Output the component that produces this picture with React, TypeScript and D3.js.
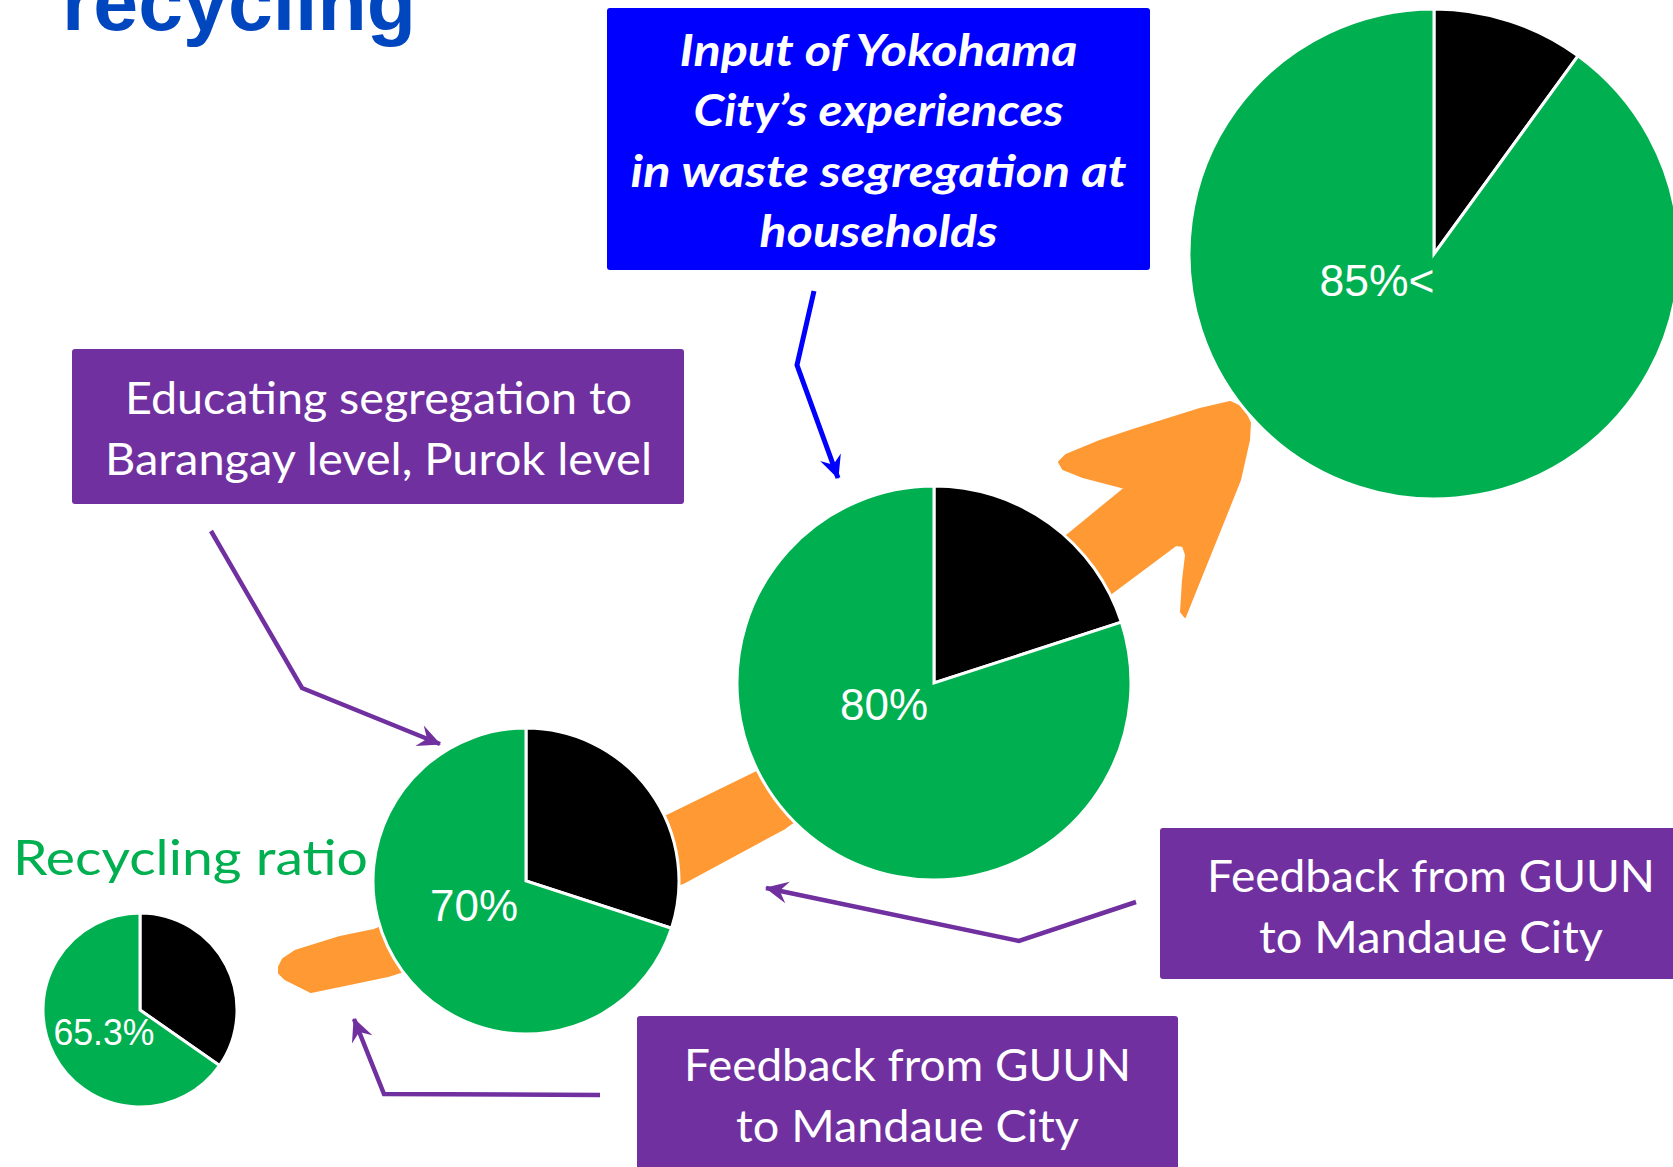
import React from "react";
import * as d3 from "d3";

const W = 1673;
const H = 1167;

// ---- data ----
const ratioLabels = ["65.3%", "70%", "80%", "85%<"];
const recycledShare = [65.3, 70, 80, 90];
const residualShare = [34.7, 30, 20, 10];
const sliceColors = ["#000000", "#00B050"]; // residual, recycled

const titleText = "recycling";
const axisLabel = "Recycling ratio";
const blueBoxLines = ["Input of Yokohama", "City\u2019s experiences", "in waste segregation at", "households"];
const educatingLines = ["Educating segregation to", "Barangay level, Purok level"];
const feedbackLines = ["Feedback from GUUN", "to Mandaue City"];

// ---- layout ----
const pieLayout = [
  { cx: 140, cy: 1010, r: 97, lx: 104, ly: 1045, fs: 37, tl: 101 },
  { cx: 526, cy: 881, r: 153, lx: 474, ly: 921, fs: 44, tl: 88 },
  { cx: 934, cy: 683, r: 197, lx: 884, ly: 720, fs: 44, tl: 88 },
  { cx: 1434, cy: 254, r: 245, lx: 1377, ly: 296, fs: 44, tl: 115 },
];

const orangePts: [number, number][] = [
  [279, 967], [283, 959], [295, 951], [311, 946], [340, 937], [374, 930],
  [669, 815], [757, 772],
  [1070, 533], [1125, 488], [1083, 477], [1063, 469], [1059, 462], [1066, 455],
  [1100, 441], [1133, 430], [1200, 409], [1230, 402], [1243, 408], [1250, 423], [1249, 440],
  [1240, 480], [1220, 530], [1197, 587], [1185, 617], [1181, 612], [1183, 580],
  [1186, 555], [1183, 546], [1176, 545], [1113, 592],
  [785, 828], [683, 883],
  [388, 976], [340, 986], [311, 992], [305, 989], [295, 984], [285, 979], [279, 973],
];

const purpleArrows: [number, number][][] = [
  [[211, 531], [302, 688], [440, 744]],
  [[1136, 902], [1019, 941], [766, 888]],
  [[600, 1095], [384, 1094], [354, 1019]],
];
const blueArrow: [number, number][] = [[814, 291], [797, 365], [838, 478]];

const PURPLE = "#7030A0";
const CAL = "Lato, 'Open Sans', sans-serif";

function Box({ x, y, w, h, fill, lines, cx, baselines, lengths, fs, italic }: any) {
  return (
    <g>
      <rect x={x} y={y} width={w} height={h} fill={fill} rx={3} />
      {lines.map((t: string, i: number) => (
        <text
          key={i}
          x={cx}
          y={baselines[i]}
          textAnchor="middle"
          fill="#fff"
          fontFamily={CAL}
          fontSize={fs}
          fontWeight={italic ? 700 : 400}
          fontStyle={italic ? "italic" : "normal"}
          textLength={lengths[i]}
          lengthAdjust="spacingAndGlyphs"
        >
          {t}
        </text>
      ))}
    </g>
  );
}

export default function App() {
  const pie = d3.pie<number>().sort(null).value((d) => d);
  const line = d3.line<[number, number]>().curve(d3.curveLinear);
  const orangeD = line(orangePts) + "Z";

  return (
    <svg
      width={W}
      height={H}
      viewBox={`0 0 ${W} ${H}`}
      style={{ position: "absolute", left: 0, top: 0, background: "#fff" }}
    >
      <defs>
        <marker id="ahP" viewBox="-26 -14 28 28" refX={0} refY={0} markerWidth={28} markerHeight={28}
          markerUnits="userSpaceOnUse" orient="auto">
          <path d="M1,0 L-22,-11 L-14,0 L-22,11 Z" fill={PURPLE} />
        </marker>
        <marker id="ahB" viewBox="-26 -14 28 28" refX={0} refY={0} markerWidth={28} markerHeight={28}
          markerUnits="userSpaceOnUse" orient="auto">
          <path d="M1,0 L-22,-11 L-14,0 L-22,11 Z" fill="#0000FF" />
        </marker>
      </defs>

      {/* title */}
      <text x={62} y={30} fill="#0046BF" fontFamily="'Liberation Sans', Arial, sans-serif"
        fontWeight={700} fontSize={80} textLength={354} lengthAdjust="spacingAndGlyphs">
        {titleText}
      </text>

      {/* orange arrow */}
      <path d={orangeD} fill="#FF9933" strokeLinejoin="round" stroke="#FF9933" strokeWidth={2} />

      {/* pies */}
      {pieLayout.map((p, i) => {
        const arcs = pie([residualShare[i], recycledShare[i]]);
        const arc = d3.arc<d3.PieArcDatum<number>>().innerRadius(0).outerRadius(p.r);
        return (
          <g key={i}>
            <g transform={`translate(${p.cx},${p.cy})`}>
              {arcs.map((a, j) => (
                <path key={j} d={arc(a) || ""} fill={sliceColors[j]} stroke="#fff" strokeWidth={3}
                  strokeLinejoin="miter" />
              ))}
            </g>
            <text x={p.lx} y={p.ly} textAnchor="middle" fill="#fff"
              fontFamily="'Liberation Sans', Arial, sans-serif" fontSize={p.fs}
              textLength={p.tl} lengthAdjust="spacingAndGlyphs">
              {ratioLabels[i]}
            </text>
          </g>
        );
      })}

      {/* axis-ish label */}
      <text x={13} y={875} fill="#00B050" fontFamily={CAL} fontSize={48}
        textLength={355} lengthAdjust="spacingAndGlyphs">
        {axisLabel}
      </text>

      {/* connector arrows */}
      {purpleArrows.map((pts, i) => (
        <path key={i} d={line(pts) || ""} fill="none" stroke={PURPLE} strokeWidth={4.5}
          strokeLinejoin="miter" markerEnd="url(#ahP)" />
      ))}
      <path d={line(blueArrow) || ""} fill="none" stroke="#0000FF" strokeWidth={5}
        markerEnd="url(#ahB)" />

      {/* boxes */}
      <Box x={607} y={8} w={543} h={262} fill="#0000FF" lines={blueBoxLines} cx={878.5}
        baselines={[66, 126, 187, 247]} lengths={[398, 370, 496, 238]} fs={44} italic />
      <Box x={72} y={349} w={612} h={155} fill={PURPLE} lines={educatingLines} cx={378.5}
        baselines={[414, 475]} lengths={[507, 547]} fs={45} />
      <Box x={1160} y={828} w={560} h={151} fill={PURPLE} lines={feedbackLines} cx={1431}
        baselines={[892, 953]} lengths={[448, 344]} fs={45} />
      <Box x={637} y={1016} w={541} h={170} fill={PURPLE} lines={feedbackLines} cx={907.5}
        baselines={[1081, 1142]} lengths={[447, 343]} fs={45} />
    </svg>
  );
}
